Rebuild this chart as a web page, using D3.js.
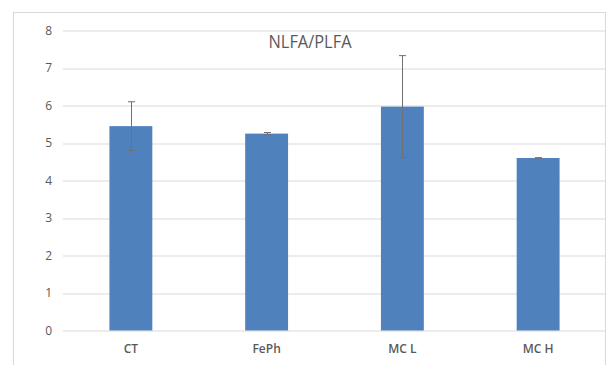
<!DOCTYPE html>
<html>
<head>
<meta charset="utf-8">
<script src="https://cdn.jsdelivr.net/npm/d3@7"></script>
<style>
  body { margin: 0; background: #fff; }
  svg { display: block; font-family: "Open Sans", sans-serif; }
</style>
</head>
<body>
<svg id="chart" width="607" height="365"></svg>
<script>
// chart data
let categories = ["CT", "FePh", "MC L", "MC H"];
let means = [5.45, 5.25, 5.97, 4.6];
let errors = [0.65, 0.03, 1.36, 0.01];
let yTicks = [0, 1, 2, 3, 4, 5, 6, 7, 8];
let title = "NLFA/PLFA";

let svg = d3.select("#chart");

// outer frame
svg.append("rect")
  .attr("x", 13.5).attr("y", 12.5)
  .attr("width", 592).attr("height", 365)
  .attr("fill", "none")
  .attr("stroke", "#d9d9d9");

let margin = { left: 63, right: 1, top: 30.5, bottom: 34.5 };
let width = 607 - margin.left - margin.right;
let height = 365 - margin.top - margin.bottom;

let g = svg.append("g")
  .attr("transform", "translate(" + margin.left + "," + margin.top + ")");

let xScale = d3.scaleBand()
  .domain(categories)
  .range([0, width])
  .paddingInner(0.684)
  .paddingOuter(0.342);

let yScale = d3.scaleLinear()
  .domain([0, 8])
  .range([height, 0]);

// gridlines
g.selectAll("line.grid")
  .data(yTicks)
  .enter()
  .append("line")
  .attr("class", "grid")
  .attr("x1", 0)
  .attr("x2", width)
  .attr("y1", d => Math.round(yScale(d)) + 0.5)
  .attr("y2", d => Math.round(yScale(d)) + 0.5)
  .attr("stroke", "#d9d9d9");

// y axis labels
let yAxis = d3.axisLeft(yScale).tickValues(yTicks).tickSize(0).tickPadding(11);
g.append("g")
  .call(yAxis)
  .attr("font-family", "'Open Sans', sans-serif")
  .call(a => a.select(".domain").remove())
  .selectAll("text")
  .attr("fill", "#595959")
  .style("font-size", "12px");

// bars
g.selectAll("rect.bar")
  .data(means)
  .enter()
  .append("rect")
  .attr("class", "bar")
  .attr("x", (d, i) => xScale(categories[i]))
  .attr("y", d => yScale(d))
  .attr("width", xScale.bandwidth())
  .attr("height", d => yScale(0) - yScale(d))
  .attr("fill", "#4f81bd");

// error bars
let errG = g.selectAll("g.err")
  .data(means)
  .enter()
  .append("g")
  .attr("class", "err")
  .attr("stroke", "#707070")
  .attr("stroke-width", 1);

let cx = i => Math.round(xScale(categories[i]) + xScale.bandwidth() / 2) + 0.5;

errG.append("line")
  .attr("x1", (d, i) => cx(i))
  .attr("x2", (d, i) => cx(i))
  .attr("y1", (d, i) => yScale(d + errors[i]))
  .attr("y2", (d, i) => yScale(d - errors[i]));

errG.append("line")
  .attr("x1", (d, i) => cx(i) - 3.5)
  .attr("x2", (d, i) => cx(i) + 3.5)
  .attr("y1", (d, i) => yScale(d + errors[i]))
  .attr("y2", (d, i) => yScale(d + errors[i]));

errG.append("line")
  .attr("x1", (d, i) => cx(i) - 3.5)
  .attr("x2", (d, i) => cx(i) + 3.5)
  .attr("y1", (d, i) => yScale(d - errors[i]))
  .attr("y2", (d, i) => yScale(d - errors[i]));

// x axis labels
let xAxis = d3.axisBottom(xScale).tickSize(0).tickPadding(14);
g.append("g")
  .attr("transform", "translate(0," + height + ")")
  .call(xAxis)
  .attr("font-family", "'Open Sans', sans-serif")
  .call(a => a.select(".domain").remove())
  .selectAll("text")
  .attr("fill", "#595959")
  .style("font-size", "12px")
  .style("font-weight", "600");

// title
svg.append("text")
  .attr("x", 310)
  .attr("y", 48)
  .attr("text-anchor", "middle")
  .attr("fill", "#595959")
  .attr("textLength", 83)
  .attr("lengthAdjust", "spacingAndGlyphs")
  .style("font-size", "18.5px")
  .text(title);
</script>
</body>
</html>
